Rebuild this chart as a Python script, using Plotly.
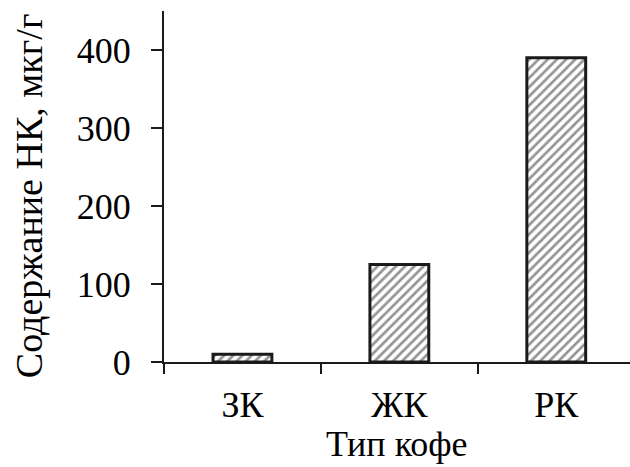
import plotly.graph_objects as go

categories = ["ЗК", "ЖК", "РК"]
values = [10, 125, 390]
y_ticks = [0, 100, 200, 300, 400]

FONT = "Liberation Serif"

fig = go.Figure()
fig.add_trace(go.Bar(
    x=categories, y=values, width=0.375,
    marker=dict(
        color="white",
        line=dict(color="#1a1a1a", width=3),
        pattern=dict(shape="/", size=6.5, solidity=0.42, fgcolor="#2a2a2a", bgcolor="white"),
    ),
    showlegend=False,
))

fig.update_layout(
    width=630, height=467,
    margin=dict(l=164, r=0, t=11, b=105),
    paper_bgcolor="white", plot_bgcolor="white",
    font=dict(family=FONT, size=36, color="black"),
    xaxis=dict(
        range=[-0.5, 2.47], showline=True, linecolor="#1a1a1a", linewidth=2,
        ticks="outside", tickson="boundaries", ticklen=10, tickwidth=2, tickcolor="#1a1a1a",
        showgrid=False, zeroline=False, ticklabelstandoff=10,
    ),
    yaxis=dict(
        range=[0, 450], tickvals=y_ticks, showline=True, linecolor="#1a1a1a", linewidth=2,
        ticks="outside", ticklen=11, tickwidth=2, tickcolor="#1a1a1a",
        showgrid=False, zeroline=False, ticklabelstandoff=13,
    ),
    annotations=[
        dict(text="Тип кофе", xref="paper", yref="paper", x=0.5, y=-0.235, yanchor="middle",
             showarrow=False, font=dict(family=FONT, size=36)),
        dict(text="Содержание НК, мкг/г", xref="paper", yref="paper", x=-0.29, y=0.475,
             xanchor="center", yanchor="middle", textangle=-90, showarrow=False,
             font=dict(family=FONT, size=38)),
    ],
)

fig.write_html("out.html")
